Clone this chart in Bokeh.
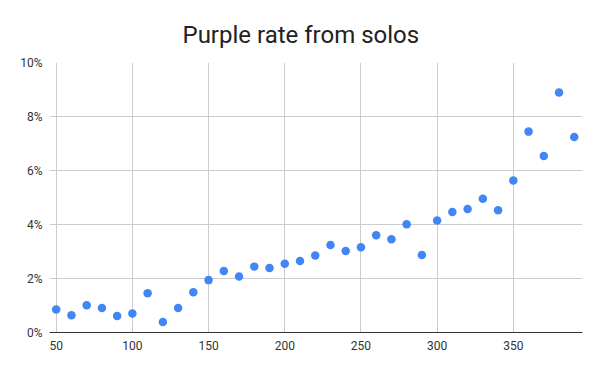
from bokeh.plotting import figure
from bokeh.models import Range1d, FixedTicker, PrintfTickFormatter, ColumnDataSource
from bokeh.embed import file_html
from bokeh.resources import INLINE

solos = [50, 60, 70, 80, 90, 100, 110, 120, 130, 140, 150, 160, 170, 180, 190,
         200, 210, 220, 230, 240, 250, 260, 270, 280, 290, 300, 310, 320, 330,
         340, 350, 360, 370, 380, 390]
purple_rate = [0.85, 0.64, 1.01, 0.91, 0.61, 0.70, 1.45, 0.39, 0.91, 1.49, 1.94,
               2.28, 2.07, 2.44, 2.39, 2.55, 2.65, 2.85, 3.24, 3.02, 3.16, 3.60,
               3.45, 4.01, 2.87, 4.15, 4.46, 4.57, 4.95, 4.53, 5.63, 7.44, 6.54,
               8.89, 7.24]
x_ticks = [50, 100, 150, 200, 250, 300, 350]
y_ticks = [0, 2, 4, 6, 8, 10]

src = ColumnDataSource(dict(x=solos, y=purple_rate))

p = figure(width=600, height=371, output_backend="svg", toolbar_location=None,
           x_range=Range1d(45.6, 395.4), y_range=Range1d(0, 10),
           min_border_left=49, min_border_right=18, min_border_top=62,
           min_border_bottom=39)
p.outline_line_color = None

p.title.text = "Purple rate from solos"
p.title.align = "left"
p.title.offset = 133
p.title.text_font = "Roboto"
p.title.text_font_size = "24px"
p.title.text_font_style = "normal"
p.title.text_color = "#222222"
p.title.standoff = 28

p.scatter("x", "y", source=src, size=8.5, color="#4285f4", line_color=None)

for ax in (p.xaxis[0], p.yaxis[0]):
    ax.major_tick_line_color = None
    ax.minor_tick_line_color = None
    ax.major_label_text_font = "Roboto"
    ax.major_label_text_font_size = "12px"
    ax.major_label_text_color = "#333333"

p.xaxis.ticker = FixedTicker(ticks=x_ticks)
p.xaxis.axis_line_color = "#333333"
p.xaxis.major_label_standoff = 2
p.yaxis.ticker = FixedTicker(ticks=y_ticks)
p.yaxis.formatter = PrintfTickFormatter(format="%d%%")
p.yaxis.axis_line_color = None
p.yaxis.major_label_standoff = 1

p.xgrid.ticker = FixedTicker(ticks=x_ticks)
p.ygrid.ticker = FixedTicker(ticks=y_ticks)
p.grid.grid_line_color = "#cccccc"

open("out.html", "w").write(file_html(p, INLINE))
